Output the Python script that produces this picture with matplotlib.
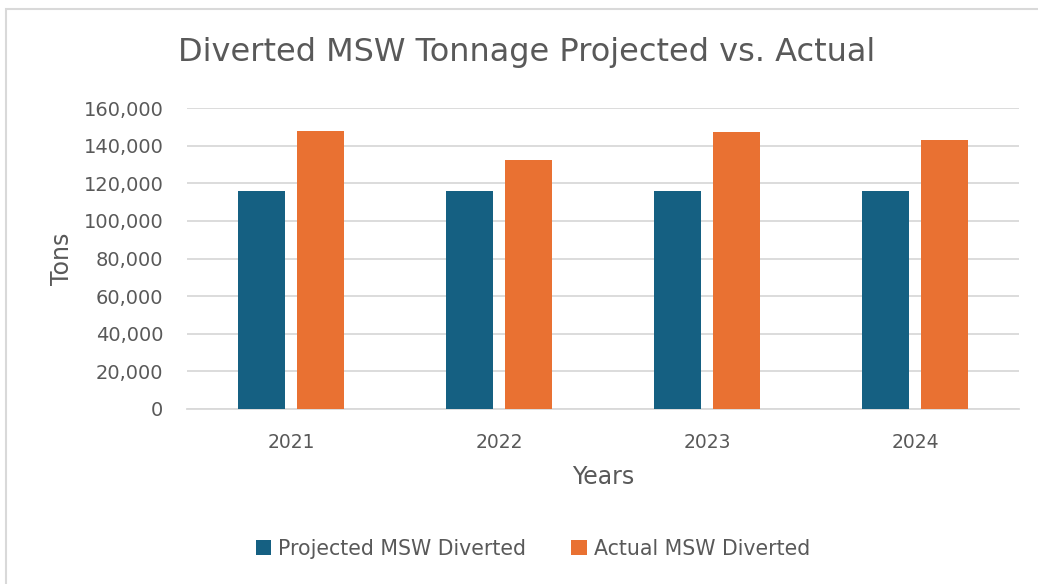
import numpy as np
import matplotlib.pyplot as plt
from matplotlib.patches import Rectangle

years = ['2021', '2022', '2023', '2024']
projected = [116000, 116000, 116000, 116000]
actual = [147600, 132400, 147300, 143200]

blue = '#156082'
orange = '#E97132'
grey = '#595959'

plt.rcParams['font.family'] = ['DejaVu Sans']

fig = plt.figure(figsize=(10.38, 5.84), dpi=100)
# chart border
fig.patches.append(Rectangle((6/1038, -0.1), 1.2, 1 - 9.5/584 + 0.1, transform=fig.transFigure,
                             fill=False, edgecolor='#D9D9D9', lw=1.5))

ax = fig.add_axes([187/1038, 1 - 409/584, 832/1038, 301/584])
x = np.arange(len(years))
w = 0.227
ax.bar(x - 0.143, projected, w, color=blue, label='Projected MSW Diverted', zorder=3)
ax.bar(x + 0.143, actual, w, color=orange, label='Actual MSW Diverted', zorder=3)

ax.set_xlim(-0.5, 3.5)
ax.set_ylim(0, 160000)
ax.set_yticks(range(0, 160001, 20000))
ax.yaxis.set_major_formatter(plt.FuncFormatter(lambda v, p: f'{int(v):,}'))
ax.set_xticks(x)
ax.set_xticklabels(years)
ax.grid(axis='y', color='#D9D9D9', lw=1.3, zorder=0)
for s in ['top', 'right', 'left']:
    ax.spines[s].set_visible(False)
ax.spines['bottom'].set_color('#D9D9D9')
ax.spines['bottom'].set_linewidth(1.3)
ax.tick_params(axis='both', length=0, labelsize=13.5, labelcolor=grey)
ax.tick_params(axis='y', labelsize=14, pad=17)
ax.tick_params(axis='x', pad=17)

ax.set_ylabel('Tons', fontsize=17, color=grey, labelpad=7)
ax.set_xlabel('Years', fontsize=17, color=grey, labelpad=10)
fig.text(527/1038, 1 - 52/584, 'Diverted MSW Tonnage Projected vs. Actual', ha='center', va='center',
         fontsize=23, color=grey)

fig.legend(loc='center', bbox_to_anchor=(533/1038, 1 - 549/584), ncol=2, frameon=False,
           fontsize=14.8, labelcolor=grey, handlelength=0.75, handleheight=0.75,
           handletextpad=0.35, columnspacing=2.2)

fig.savefig('out.png', dpi=100)
